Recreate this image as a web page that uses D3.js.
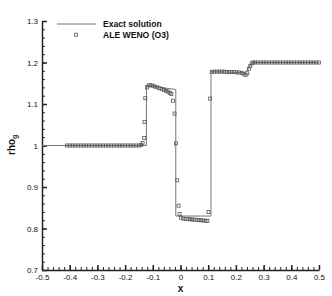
<!DOCTYPE html>
<html><head><meta charset="utf-8">
<script src="https://cdn.jsdelivr.net/npm/d3@7"></script>
<style>
html,body{margin:0;padding:0;background:#fff;}
svg{display:block;font-family:"Liberation Sans",Arial,sans-serif;}
</style></head>
<body>
<svg id="c" width="332" height="296"></svg>
<script>
// Exact solution
const exactX = [-0.5, -0.123, -0.123, -0.10, -0.07, -0.04, -0.017, -0.017, 0.11, 0.11, 0.17, 0.232, 0.240, 0.248, 0.256, 0.262, 0.5];
const exactY = [1.0, 1.0, 1.145, 1.143, 1.140, 1.137, 1.135, 0.83, 0.83, 1.178, 1.177, 1.175, 1.180, 1.189, 1.197, 1.2, 1.2];
// ALE WENO (O3) markers
const weX = [-0.41,-0.40,-0.39,-0.38,-0.37,-0.36,-0.35,-0.34,-0.33,-0.32,-0.31,-0.30,-0.29,-0.28,-0.27,-0.26,-0.25,-0.24,-0.23,-0.22,-0.21,-0.20,-0.19,-0.18,-0.17,-0.16,-0.15,-0.142,
  -0.137,-0.131,-0.130,-0.127,-0.121,-0.115,-0.108,-0.100,-0.092,-0.084,-0.076,-0.068,-0.060,-0.052,-0.045,-0.039,-0.033,-0.027,-0.0215,-0.0164,-0.0117,-0.007,-0.0034,
  0.002,0.010,0.018,0.026,0.034,0.042,0.050,0.058,0.066,0.074,0.082,0.090,0.097,0.101,0.107,
  0.113,0.122,0.131,0.140,0.149,0.158,0.167,0.176,0.185,0.194,0.203,0.212,0.221,0.228,0.235,0.241,0.247,0.252,0.257,0.263,
  0.27,0.28,0.29,0.30,0.31,0.32,0.33,0.34,0.35,0.36,0.37,0.38,0.39,0.40,0.41,0.42,0.43,0.44,0.45,0.46,0.47,0.48,0.49,0.50];
const weY = [1,1,1,1,1,1,1,1,1,1,1,1,1,1,1,1,1,1,1,1,1,1,1,1,1,1,1,1.001,
  1.006,1.018,1.057,1.114,1.140,1.145,1.145,1.144,1.142,1.140,1.138,1.136,1.134,1.132,1.130,1.127,1.124,1.108,1.077,1.005,0.916,0.855,0.835,
  0.826,0.824,0.823,0.823,0.822,0.822,0.821,0.821,0.820,0.820,0.819,0.819,0.818,0.840,1.113,
  1.177,1.178,1.178,1.178,1.178,1.178,1.177,1.177,1.177,1.177,1.176,1.176,1.175,1.173,1.170,1.174,1.185,1.192,1.198,1.200,
  1.2,1.2,1.2,1.2,1.2,1.2,1.2,1.2,1.2,1.2,1.2,1.2,1.2,1.2,1.2,1.2,1.2,1.2,1.2,1.2,1.2,1.2,1.2,1.2];
const xTicks = [-0.5,-0.4,-0.3,-0.2,-0.1,0,0.1,0.2,0.3,0.4,0.5];
const xTickLabels = ["-0.5","-0.4","-0.3","-0.2","-0.1","0","0.1","0.2","0.3","0.4","0.5"];
const yTicks = [0.7,0.8,0.9,1.0,1.1,1.2,1.3];
const yTickLabels = ["0.7","0.8","0.9","1","1.1","1.2","1.3"];
const seriesNames = ["Exact solution","ALE WENO (O3)"];

const svg = d3.select("#c");
const x = d3.scaleLinear().domain([-0.5,0.5]).range([42,319]);
const y = d3.scaleLinear().domain([0.7,1.3]).range([270,21]);

// minor ticks
const xMinor = d3.range(-0.5,0.5001,0.02);
const yMinor = d3.range(0.7,1.3001,0.02);
svg.append("g").attr("transform","translate(0,270)")
  .call(d3.axisBottom(x).tickValues(xMinor).tickSize(-3).tickFormat(""))
  .call(g=>g.select(".domain").remove())
  .call(g=>g.selectAll("line").attr("stroke","#222").attr("stroke-width",1));
svg.append("g").attr("transform","translate(42,0)")
  .call(d3.axisLeft(y).tickValues(yMinor).tickSize(-3).tickFormat(""))
  .call(g=>g.select(".domain").remove())
  .call(g=>g.selectAll("line").attr("stroke","#222").attr("stroke-width",1));

// major axes
const xa = svg.append("g").attr("transform","translate(0,270)")
  .call(d3.axisBottom(x).tickValues(xTicks).tickSizeInner(-5).tickSizeOuter(0).tickPadding(4)
    .tickFormat((d,i)=>xTickLabels[i]));
const ya = svg.append("g").attr("transform","translate(42,0)")
  .call(d3.axisLeft(y).tickValues(yTicks).tickSizeInner(-5).tickSizeOuter(0).tickPadding(4)
    .tickFormat((d,i)=>yTickLabels[i]));
[xa,ya].forEach(g=>{
  g.select(".domain").attr("stroke","#222").attr("stroke-width",1.5);
  g.selectAll("line").attr("stroke","#222").attr("stroke-width",1.5);
  g.selectAll("text").attr("font-size",8).attr("fill","#111").attr("font-family","Liberation Sans, Arial, sans-serif");
});

// exact line
const exact = exactX.map((d,i)=>[d,exactY[i]]);
svg.append("path").datum(exact)
  .attr("d", d3.line().x(d=>x(d[0])).y(d=>y(d[1])))
  .attr("fill","none").attr("stroke","#777").attr("stroke-width",1);

// markers
const pts = weX.map((d,i)=>[d,weY[i]]);
svg.append("g").selectAll("rect").data(pts).join("rect")
  .attr("x",d=>x(d[0])-1.5).attr("y",d=>y(d[1])-1.5)
  .attr("width",3).attr("height",3)
  .attr("fill","none").attr("stroke","#555").attr("stroke-width",0.8);

// legend
const lg = svg.append("g");
lg.append("line").attr("x1",57).attr("x2",96).attr("y1",24).attr("y2",24).attr("stroke","#777").attr("stroke-width",1);
lg.append("rect").attr("x",74.5).attr("y",33.2).attr("width",3).attr("height",3).attr("fill","none").attr("stroke","#555").attr("stroke-width",0.8);
lg.selectAll("text").data(seriesNames).join("text")
  .attr("x",103).attr("y",(d,i)=>27+i*11)
  .attr("font-size",8.6).attr("font-weight","bold").attr("fill","#111").text(d=>d);

// axis titles
svg.append("text").attr("x",180.5).attr("y",292).attr("text-anchor","middle")
  .attr("font-size",10).attr("font-weight","bold").attr("fill","#111").text("x");
const yl = svg.append("text").attr("transform","translate(15,155) rotate(-90)")
  .attr("font-size",10).attr("font-weight","bold").attr("fill","#111");
yl.append("tspan").text("rho");
yl.append("tspan").attr("font-size",7).attr("dy",2).text("g");
</script>
</body></html>
